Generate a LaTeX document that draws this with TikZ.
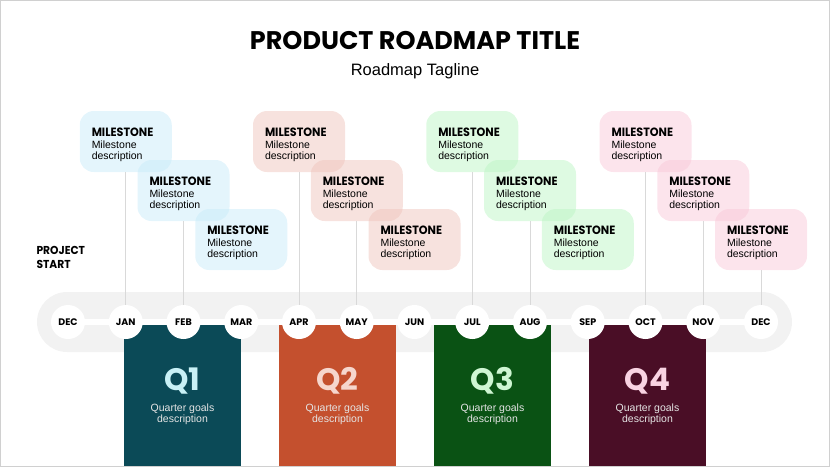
\documentclass[tikz,border=0pt]{standalone}
\usepackage{fontspec}
\setmainfont{Liberation Sans}
\newfontfamily\headfont{Poppins}
\newfontfamily\marcofont{Poppins}[FakeStretch=0.93]
\usetikzlibrary{positioning}

\definecolor{qone}{HTML}{0B4A57}
\definecolor{qtwo}{HTML}{C4502E}
\definecolor{qthree}{HTML}{0A5214}
\definecolor{qfour}{HTML}{4A0E26}
\definecolor{qonetxt}{HTML}{C9F1F6}
\definecolor{qtwotxt}{HTML}{F6D6CD}
\definecolor{qthreetxt}{HTML}{CFF6D3}
\definecolor{qfourtxt}{HTML}{F9D3E2}
\definecolor{msone}{HTML}{C9EBF9}
\definecolor{mstwo}{HTML}{EFC5BD}
\definecolor{msthree}{HTML}{BDF5C5}
\definecolor{msfour}{HTML}{F9C9D9}
\definecolor{bargray}{HTML}{F2F2F2}
\definecolor{stemgray}{HTML}{D9D9D9}
\definecolor{framegray}{HTML}{D0D0D0}

\begin{document}
\begin{tikzpicture}[
                x=1pt, y=-1pt,
                mes/.style={shape=circle, fill=white, minimum size=34pt, inner sep=0pt,
                    font=\headfont\bfseries\fontsize{9.5}{10}\selectfont},
                marco/.style={shape=rectangle, rounded corners=14pt, minimum width=92pt,
                    minimum height=61pt, text width=68pt, inner xsep=12pt, align=left,
                    fill opacity=0.5, text opacity=1,
                    font=\fontsize{10.5}{11}\selectfont},
                haste/.style={draw=stemgray, line width=0.8pt},
                trimestre/.style={shape=rectangle, minimum width=117pt, minimum height=142.5pt,
                    inner sep=0pt, anchor=north},
                rotulo/.style={font=\headfont\bfseries\fontsize{31}{34}\selectfont},
                meta/.style={align=center, text=white!90!black,
                    font=\fontsize{10.5}{11}\selectfont},
            ]
            \useasboundingbox (0,0) rectangle (830,467);
            % titulo
            \node[font=\headfont\bfseries\fontsize{25.5}{30}\selectfont] (titulo) at (415,41) {PRODUCT ROADMAP TITLE};
            \node[font=\fontsize{16.5}{18}\selectfont, below=6pt of titulo] (tagline) {Roadmap Tagline};
            \node[anchor=west, align=left, font=\marcofont\bfseries\fontsize{11.5}{14.5}\selectfont] (inicio) at (33,257.5) {PROJECT\\START};
            % barra
            \fill[bargray, rounded corners=30pt] (37,292) rectangle (792,352);
            \draw[white, line width=6pt] (68,322) -- (761,322);
            % trimestres
            \foreach \k/\q in {1/one,2/two,3/three,4/four} {
                \node[trimestre, fill=q\q] (q\k) at ({27.5+155*\k},324.5) {};
                \node[rotulo, text=q\q txt] (r\k) at ({27.5+155*\k},381) {Q\k};
                \node[meta] (d\k) at ({27.5+155*\k},414) {Quarter goals\\description};
            }
            % meses
            \foreach \i/\m in {0/DEC,1/JAN,2/FEB,3/MAR,4/APR,5/MAY,6/JUN,7/JUL,8/AUG,9/SEP,10/OCT,11/NOV,12/DEC}
                \node[mes] (m\i) at ({68+57.75*\i},322) {\m};
            % marcos
            \foreach \i/\q in {1/one,2/one,3/one,4/two,5/two,6/two,7/three,8/three,9/three,10/four,11/four,12/four} {
                \pgfmathsetmacro\ry{141.5+49*mod(\i-1,3)}
                \node[marco, fill=ms\q] (ms\i) at ({68+57.75*\i},\ry)
                    {\rule{0pt}{15pt}{\marcofont\bfseries\fontsize{12}{13}\selectfont MILESTONE}\\[1.5pt]Milestone\\description};
            }
            % hastes (MAR, JUN e SEP sem haste)
            \foreach \i in {1,2,4,5,7,8,10,11,12}
                \draw[haste] (ms\i) -- (m\i);
            \draw[framegray, line width=1pt] (0.5,0.5) rectangle (829.5,466.5);
        \end{tikzpicture}
\end{document}
